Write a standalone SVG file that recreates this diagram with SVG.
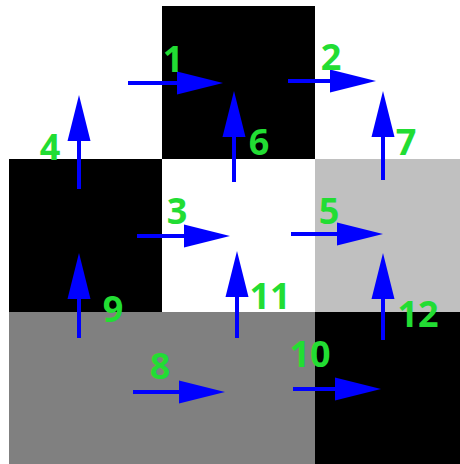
<svg xmlns="http://www.w3.org/2000/svg" width="460" height="464" viewBox="0 0 460 464">
<defs>
<style>
.lbl{font-family:"Noto Sans","Open Sans","DejaVu Sans",sans-serif;font-weight:bold;font-size:36px;fill:#22dd33;text-anchor:middle}
.ar{stroke:#0000ff;stroke-width:4;fill:none}
</style>
<marker id="h" markerUnits="userSpaceOnUse" markerWidth="46" markerHeight="24" refX="1" refY="11.5" orient="auto" overflow="visible">
<path d="M0,0 L46,11.5 L0,23 Z" fill="#0000ff"/>
</marker>
</defs>
<rect width="460" height="464" fill="#ffffff"/>
<g id="cells">
<rect id="c00" x="9" y="6" width="153" height="153" fill="#ffffff"/>
<rect id="c10" x="162" y="6" width="153" height="153" fill="#000000"/>
<rect id="c20" x="315" y="6" width="145" height="153" fill="#ffffff"/>
<rect id="c01" x="9" y="159" width="153" height="153" fill="#000000"/>
<rect id="c11" x="162" y="159" width="153" height="153" fill="#ffffff"/>
<rect id="c21" x="315" y="159" width="145" height="153" fill="#c0c0c0"/>
<rect id="c02" x="9" y="312" width="153" height="152" fill="#808080"/>
<rect id="c12" x="162" y="312" width="153" height="152" fill="#808080"/>
<rect id="c22" x="315" y="312" width="145" height="152" fill="#000000"/>
</g>
<g id="connectors">
<line class="ar" x1="128" y1="83" x2="178" y2="83" marker-end="url(#h)"/>
<line class="ar" x1="288" y1="81" x2="331" y2="81" marker-end="url(#h)"/>
<line class="ar" x1="137" y1="236" x2="185" y2="236" marker-end="url(#h)"/>
<line class="ar" x1="291" y1="234" x2="338" y2="234" marker-end="url(#h)"/>
<line class="ar" x1="133" y1="392" x2="180" y2="392" marker-end="url(#h)"/>
<line class="ar" x1="293" y1="389" x2="336" y2="389" marker-end="url(#h)"/>
<line class="ar" x1="79" y1="189" x2="79" y2="140" marker-end="url(#h)"/>
<line class="ar" x1="234" y1="182" x2="234" y2="136" marker-end="url(#h)"/>
<line class="ar" x1="383" y1="180" x2="383" y2="136" marker-end="url(#h)"/>
<line class="ar" x1="79" y1="338" x2="79" y2="298" marker-end="url(#h)"/>
<line class="ar" x1="237" y1="338" x2="237" y2="296" marker-end="url(#h)"/>
<line class="ar" x1="383" y1="340" x2="383" y2="298" marker-end="url(#h)"/>
</g>
<g id="labels">
<text class="lbl" x="173" y="72">1</text>
<text class="lbl" x="331" y="70">2</text>
<text class="lbl" x="177" y="224">3</text>
<text class="lbl" x="50" y="160">4</text>
<text class="lbl" x="329" y="224">5</text>
<text class="lbl" x="259" y="155">6</text>
<text class="lbl" x="406" y="155">7</text>
<text class="lbl" x="160" y="379">8</text>
<text class="lbl" x="113" y="322">9</text>
<text class="lbl" x="310" y="367">10</text>
<text class="lbl" x="270" y="309">11</text>
<text class="lbl" x="418" y="327">12</text>
</g>
</svg>
